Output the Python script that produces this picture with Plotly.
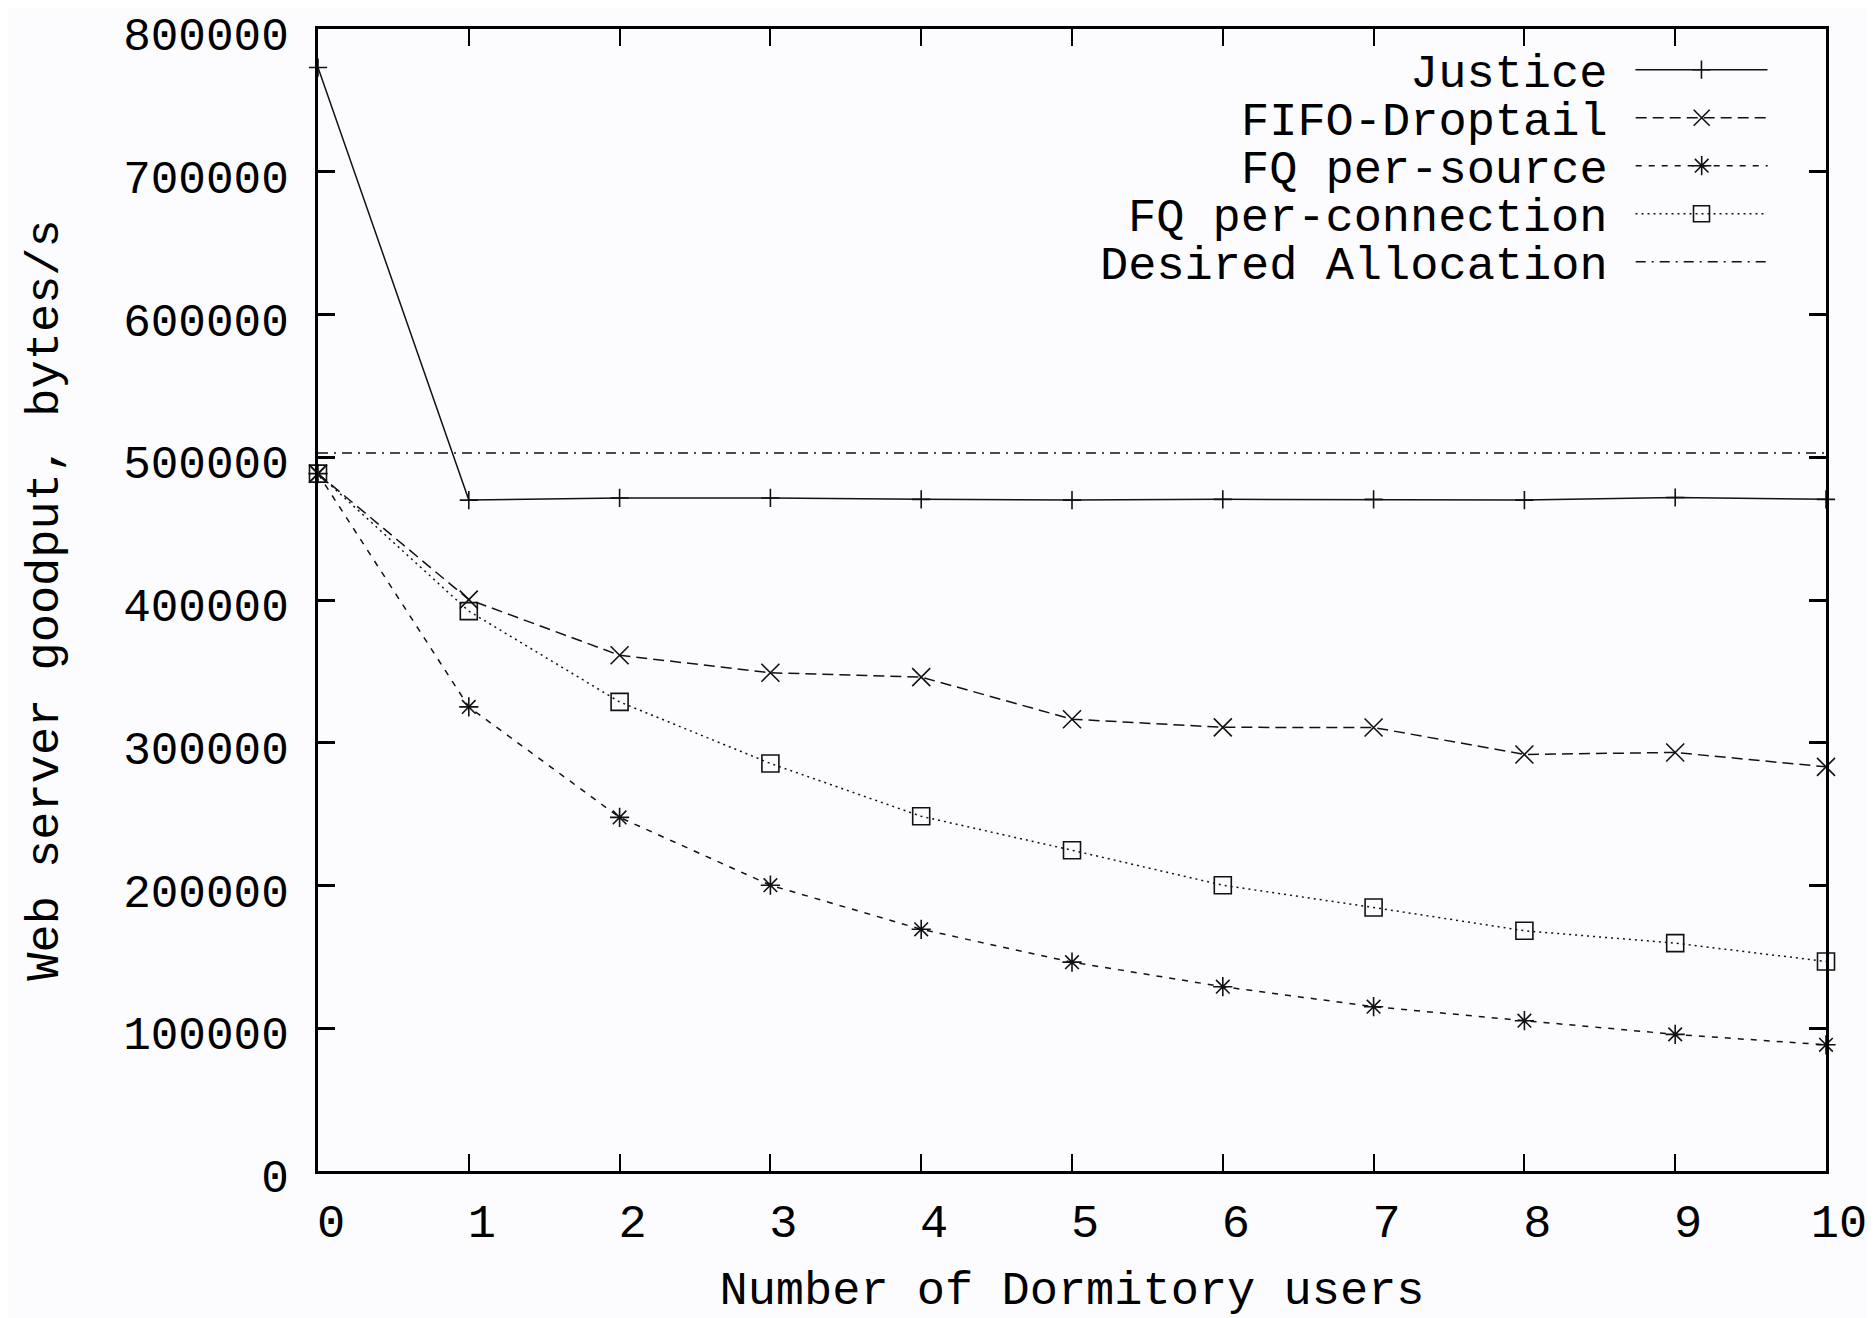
import plotly.graph_objects as go

# ---------------- data ----------------
users = [0, 1, 2, 3, 4, 5, 6, 7, 8, 9, 10]
justice = [773000, 470000, 471500, 471500, 470500, 470000, 470500, 470500, 470000, 471800, 470500]
fifo_droptail = [488500, 400300, 361300, 349000, 346000, 316500, 310800, 310700, 291800, 293200, 283100]
fq_per_source = [488500, 325100, 247700, 200200, 169300, 146300, 129100, 115100, 105300, 95700, 88400]
fq_per_connection = [488500, 392200, 328600, 285500, 248500, 224700, 200200, 184600, 168300, 159600, 146800]
desired_allocation = [503000] * len(users)

series_names = ["Justice", "FIFO-Droptail", "FQ per-source", "FQ per-connection", "Desired Allocation"]
y_ticks = [0, 100000, 200000, 300000, 400000, 500000, 600000, 700000, 800000]
x_ticks = users

# ---------------- style ----------------
OFF = 8  # page body margin of the browser
W, H = 1875 - OFF, 1318 - OFF
L, T = 318 - OFF, 29 - OFF
PR, PB = 1826 - OFF, 1171 - OFF
R, B = W - PR, H - PB
PW, PH = PR - L, PB - T
FONT = "Liberation Mono, DejaVu Sans Mono, monospace"
INK = "#111111"
BG = "#fcfcff"


def fx(screen_x):
    return (screen_x - OFF - L) / PW


def fy(screen_y):
    return (PB - (screen_y - OFF)) / PH


styles = [
    dict(dash="solid", symbol="cross-thin-open", size=13),
    dict(dash="11px,6px", symbol="x-thin-open", size=18),
    dict(dash="6px,7px", symbol="asterisk-open", size=16),
    dict(dash="2px,4px", symbol="square-open", size=17),
    dict(dash="10px,6px,2px,6px", symbol=None, size=0),
]
values = [justice, fifo_droptail, fq_per_source, fq_per_connection, desired_allocation]
legend_rows = [70, 118, 166, 214, 262]
SPACER = '<span style="font-size:25px">\u00a0</span>'

fig = go.Figure()
for k, (name, vals, st) in enumerate(zip(series_names, values, styles)):
    lg = "legend" if k == 0 else f"legend{k+1}"
    mode = "lines+markers" if st["symbol"] else "lines"
    kw = {}
    if st["symbol"]:
        kw["marker"] = dict(symbol=st["symbol"], size=st["size"], color=INK,
                            line=dict(width=1.6, color=INK))
    fig.add_trace(go.Scatter(
        x=users, y=vals, mode=mode, name="", legend=lg,
        line=dict(color=INK, width=1.5, dash=st["dash"]),
        cliponaxis=False,
        hovertemplate=name + ": %{y}<extra></extra>",
        **kw,
    ))

layout_legends = {}
for k, name in enumerate(series_names):
    lg = "legend" if k == 0 else f"legend{k+1}"
    layout_legends[lg] = dict(
        title=dict(text=name + SPACER, side="left",
                   font=dict(family=FONT, size=47, color="#000")),
        x=fx(1778), y=fy(legend_rows[k]), xanchor="right", yanchor="middle",
        xref="paper", yref="paper",
        bgcolor="rgba(0,0,0,0)", borderwidth=0,
        itemwidth=132, font=dict(family=FONT, size=58, color="#000"),
    )

fig.update_layout(
    width=W, height=H,
    margin=dict(l=L, r=R, t=T, b=B, autoexpand=False),
    paper_bgcolor=BG, plot_bgcolor=BG,
    font=dict(family=FONT, color="#000"),
    showlegend=True,
    **layout_legends,
)

fig.update_xaxes(
    range=[0, 10], tickvals=x_ticks, ticktext=[str(v) for v in x_ticks],
    ticks="inside", ticklen=17, tickwidth=1.5, tickcolor="#000",
    showline=True, linewidth=3, linecolor="#000", mirror="ticks",
    showgrid=False, zeroline=False,
    tickfont=dict(family=FONT, size=47, color="#000"),
    ticklabelshift=13, ticklabelstandoff=7, ticklabeloverflow="allow",
    title=dict(text="Number of Dormitory users", font=dict(family=FONT, size=47, color="#000"), standoff=28),
)
fig.update_yaxes(
    range=[0, 800000], tickvals=y_ticks, ticktext=[str(v) for v in y_ticks],
    ticks="inside", ticklen=17, tickwidth=3, tickcolor="#000",
    showline=True, linewidth=3, linecolor="#000", mirror="ticks",
    showgrid=False, zeroline=False,
    tickfont=dict(family=FONT, size=46, color="#000"),
    ticklabelstandoff=17, ticklabelshift=5, ticklabeloverflow="allow",
    title=dict(text="Web server goodput, bytes/s", font=dict(family=FONT, size=47, color="#000"), standoff=50),
)

fig.write_html("out.html")
